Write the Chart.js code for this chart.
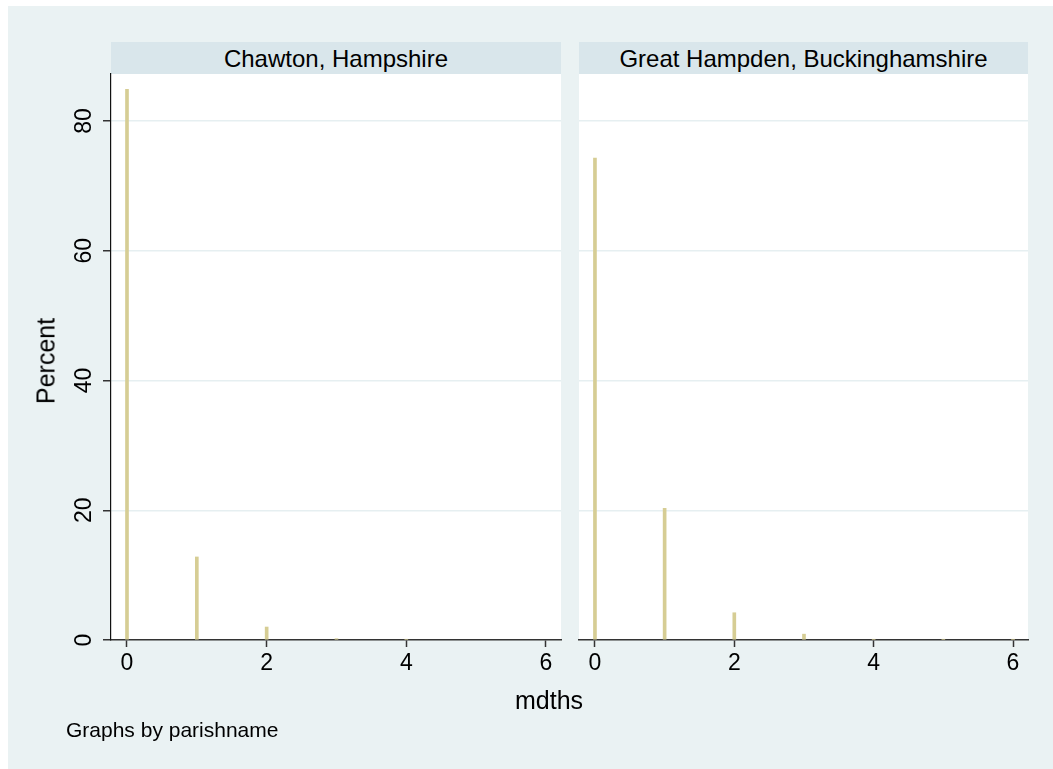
<!DOCTYPE html>
<html>
<head>
<meta charset="utf-8">
<title>mdths by parish</title>
<script src="https://cdn.jsdelivr.net/npm/chart.js@4.4.0/dist/chart.umd.min.js"></script>
<style>
  body {
    margin: 0;
    width: 1053px;
    height: 769px;
    overflow: hidden;
    position: relative;
    background: #fff;
    font-family: 'Liberation Sans', Arial, Helvetica, sans-serif;
    color: #000;
  }
  #frame {
    position: absolute;
    left: 8px;
    top: 6px;
    right: 0;
    bottom: 0;
    background: #eaf2f3;
  }
  .strip {
    position: absolute;
    top: 42px;
    height: 32px;
    line-height: 33px;
    background: #d9e6eb;
    font-size: 24px;
    text-align: center;
    white-space: nowrap;
  }
  canvas {
    position: absolute;
    top: 0;
  }
  #yTitle {
    position: absolute;
    left: 46px;
    top: 361px;
    font-size: 25px;
    transform: translate(-50%, -50%) rotate(-90deg);
    white-space: nowrap;
  }
  #xTitle {
    position: absolute;
    left: 549px;
    top: 700px;
    font-size: 25px;
    transform: translate(-50%, -50%);
  }
  #note {
    position: absolute;
    left: 66px;
    top: 718px;
    font-size: 21px;
  }
</style>
</head>
<body>
<div id="frame"></div>
<div class="strip" style="left:111px; width:450px;">Chawton, Hampshire</div>
<div class="strip" style="left:579px; width:449px;">Great Hampden, Buckinghamshire</div>
<canvas id="chawtonChart" width="570" height="769" style="left:0;"></canvas>
<canvas id="hampdenChart" width="483" height="769" style="left:570px;"></canvas>
<div id="yTitle">Percent</div>
<div id="xTitle">mdths</div>
<div id="note">Graphs by parishname</div>

<script>
const xTicks = [0, 2, 4, 6];
const yTicks = [0, 20, 40, 60, 80];

const chawtonMdths = [0, 1, 2, 3, 4];
const chawtonPercent = [84.9, 12.8, 2.0, 0.2, 0.1];

const hampdenMdths = [0, 1, 2, 3, 4, 5, 6];
const hampdenPercent = [74.3, 20.3, 4.2, 0.9, 0.1, 0.1, 0.1];

const FONT = "'Liberation Sans', Arial, Helvetica, sans-serif";
const BAR_COLOR = '#d6cd94';
const GRID_COLOR = '#e6eff1';
const AXIS_COLOR = '#333';

// white plot region behind the bars
const plotBackground = {
  id: 'plotBackground',
  beforeDraw(chart) {
    const { ctx, chartArea: a } = chart;
    ctx.save();
    ctx.fillStyle = '#fff';
    ctx.fillRect(a.left, a.top, a.right - a.left, a.bottom - a.top);
    ctx.restore();
  },
};

// y tick labels read bottom-to-top, so they are drawn here rather than by the scale
const rotatedYLabels = {
  id: 'rotatedYLabels',
  afterDraw(chart) {
    const scale = chart.scales.y;
    const ctx = chart.ctx;
    ctx.save();
    ctx.font = `23px ${FONT}`;
    ctx.fillStyle = '#000';
    ctx.textAlign = 'center';
    ctx.textBaseline = 'middle';
    yTicks.forEach((v) => {
      ctx.save();
      ctx.translate(scale.right - 26, scale.getPixelForValue(v));
      ctx.rotate(-Math.PI / 2);
      ctx.fillText(String(v), 0, 0);
      ctx.restore();
    });
    ctx.restore();
  },
};

function makePanel(canvasId, mdths, percent, withYAxis, padding) {
  const plugins = [plotBackground];
  if (withYAxis) plugins.push(rotatedYLabels);

  return new Chart(document.getElementById(canvasId), {
    type: 'bar',
    data: {
      datasets: [
        {
          data: mdths.map((m, i) => ({ x: m, y: percent[i] })),
          backgroundColor: BAR_COLOR,
          borderWidth: 0,
          barThickness: 3,
        },
      ],
    },
    plugins,
    options: {
      responsive: false,
      animation: false,
      layout: { padding },
      plugins: {
        legend: { display: false },
        tooltip: { enabled: false },
      },
      scales: {
        x: {
          type: 'linear',
          offset: false,
          min: -0.229,
          max: 6.215,
          afterBuildTicks: (scale) => {
            scale.ticks = xTicks.map((v) => ({ value: v }));
          },
          afterFit: (scale) => {
            scale.height = 129;
          },
          grid: {
            offset: false,
            drawOnChartArea: false,
            drawTicks: true,
            tickLength: 7,
            tickWidth: 1.5,
            tickColor: AXIS_COLOR,
          },
          border: { display: true, color: AXIS_COLOR, width: 1.5 },
          ticks: {
            color: '#000',
            font: { family: FONT, size: 23 },
            padding: 3,
            maxRotation: 0,
            autoSkip: false,
          },
        },
        y: {
          type: 'linear',
          min: 0,
          max: 87.25,
          afterBuildTicks: (scale) => {
            scale.ticks = yTicks.map((v) => ({ value: v }));
          },
          afterFit: (scale) => {
            scale.width = withYAxis ? 111 : 0;
          },
          grid: {
            color: (c) => (c.tick && c.tick.value === 0 ? 'rgba(0,0,0,0)' : GRID_COLOR),
            lineWidth: 1.5,
            drawTicks: withYAxis,
            tickLength: 8,
            tickWidth: 1.5,
            tickColor: AXIS_COLOR,
          },
          border: { display: withYAxis, color: '#111', width: 1.2 },
          ticks: { display: false },
        },
      },
    },
  });
}

makePanel('chawtonChart', chawtonMdths, chawtonPercent, true, { top: 74, right: 9, bottom: 0, left: 0 });
makePanel('hampdenChart', hampdenMdths, hampdenPercent, false, { top: 74, right: 25, bottom: 0, left: 9 });
</script>
</body>
</html>
